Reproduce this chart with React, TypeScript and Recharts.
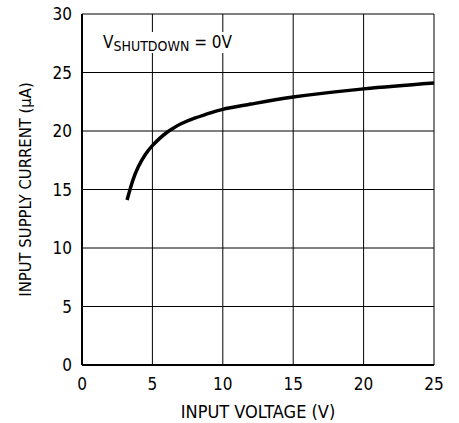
import { CartesianGrid, Label, Line, LineChart, XAxis, YAxis } from 'recharts'

const FONT = '"Liberation Sans Narrow", "Arial Narrow", "DejaVu Sans Condensed", sans-serif'

const voltage = [3.2, 3.6, 4, 4.5, 5, 5.5, 6, 6.5, 7, 8, 9, 10, 12, 15, 20, 25]
const current = [14.1, 15.75, 16.95, 18.0, 18.75, 19.35, 19.85, 20.25, 20.6, 21.1, 21.5, 21.85, 22.3, 22.9, 23.6, 24.1]
const xTicks = [0, 5, 10, 15, 20, 25]
const yTicks = [0, 5, 10, 15, 20, 25, 30]

const data = voltage.map((v, i) => ({ v, i: current[i] }))

export default function App() {
  return (
    <div style={{ position: 'absolute', left: 0, top: 0, width: 459, height: 423, background: '#fff' }}>
      <LineChart width={459} height={423} data={data} margin={{ top: 14, right: 25, bottom: 0, left: 0 }}>
        <CartesianGrid stroke="#000" strokeWidth={1} />
        <XAxis
          type="number"
          dataKey="v"
          domain={[0, 25]}
          ticks={xTicks}
          height={58}
          tickSize={0}
          tickMargin={13}
          axisLine={{ stroke: '#000', strokeWidth: 2 }}
          tick={{ fill: '#000', fontSize: 17, fontFamily: FONT }}
        >
          <Label
            value="INPUT VOLTAGE (V)"
            position="insideBottom"
            offset={5}
            style={{ fill: '#000', fontSize: 18, fontFamily: FONT }}
          />
        </XAxis>
        <YAxis
          type="number"
          domain={[0, 30]}
          ticks={yTicks}
          width={82}
          tickSize={0}
          tickMargin={10}
          axisLine={{ stroke: '#000', strokeWidth: 2 }}
          tick={{ fill: '#000', fontSize: 17, fontFamily: FONT }}
        >
          <Label
            value="INPUT SUPPLY CURRENT (μA)"
            angle={-90}
            position="insideLeft"
            offset={25}
            style={{ fill: '#000', fontSize: 16.5, fontFamily: FONT, textAnchor: 'middle' }}
          />
        </YAxis>
        <Line
          type="natural"
          dataKey="i"
          stroke="#000"
          strokeWidth={3.5}
          dot={false}
          isAnimationActive={false}
        />
      </LineChart>
      <div
        style={{
          position: 'absolute',
          left: 102,
          top: 32,
          fontFamily: FONT,
          fontSize: 17,
          color: '#000',
          background: '#fff',
          lineHeight: '20px',
          padding: '0 1px',
          whiteSpace: 'nowrap',
        }}
      >
        V<span style={{ fontSize: 14, position: 'relative', top: 3 }}>SHUTDOWN</span> = 0V
      </div>
    </div>
  )
}
